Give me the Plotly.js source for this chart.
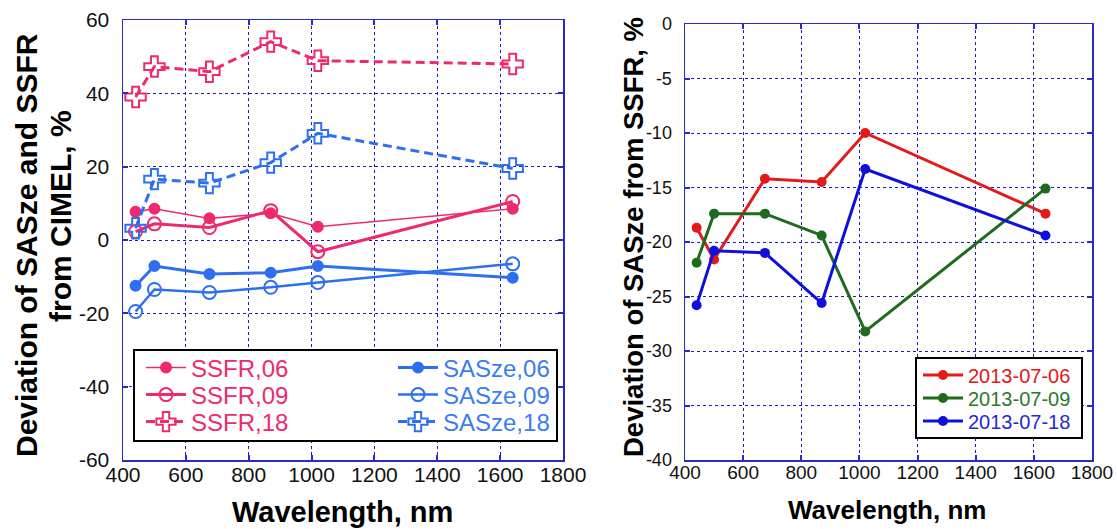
<!DOCTYPE html>
<html><head><meta charset="utf-8">
<script src="https://cdn.plot.ly/plotly-3.0.1.min.js"></script>
<style>html,body{margin:0;padding:0;background:#fff}#chart{width:1117px;height:529px}</style>
</head><body><div id="chart"></div>
<script>
// ---- data ----
const wavelengths = [440, 500, 675, 870, 1020, 1640];
const ssfr06 = [7.7, 8.5, 5.9, 7.3, 3.6, 8.5];
const ssfr09 = [2.3, 4.4, 3.4, 8.0, -3.2, 10.5];
const ssfr18 = [39.0, 47.3, 45.9, 54.1, 48.9, 48.0];
const sasze06 = [-12.5, -7.1, -9.3, -8.9, -7.1, -10.3];
const sasze09 = [-19.5, -13.5, -14.3, -12.9, -11.6, -6.5];
const sasze18 = [3.2, 16.6, 15.5, 21.1, 29.1, 19.5];
const dev0706 = [-18.7, -21.6, -14.2, -14.5, -10.0, -17.4];
const dev0709 = [-21.9, -17.4, -17.4, -19.4, -28.2, -15.1];
const dev0718 = [-25.8, -20.8, -21.0, -25.6, -13.3, -19.4];
const leftNames = ['SSFR,06', 'SSFR,09', 'SSFR,18', 'SASze,06', 'SASze,09', 'SASze,18'];
const rightNames = ['2013-07-06', '2013-07-09', '2013-07-18'];
const xTickVals = [400, 600, 800, 1000, 1200, 1400, 1600, 1800];
const xTickText = ['400', '600', '800', '1000', '1200', '1400', '1600', '1800'];
const leftYTickVals = [-60, -40, -20, 0, 20, 40, 60];
const leftYTickText = ['-60', '-40', '-20', '0', '20', '40', '60'];
const rightYTickVals = [-40, -35, -30, -25, -20, -15, -10, -5, 0];
const rightYTickText = ['-40', '-35', '-30', '-25', '-20', '-15', '-10', '-5', '0'];
const xTitle = 'Wavelength, nm';
const leftYTitle1 = 'Deviation of SASze and SSFR';
const leftYTitle2 = 'from CIMEL, %';
const rightYTitle = 'Deviation of SASze from SSFR, %';

// ---- styling ----
const W = 1117, H = 529;
const PL = 123, PR = 1092, PT = 20, PB = 460;
const PINK = '#EE2A6E', LBLUE = '#2E6FF0';
const RED = '#E41A1A', GREEN = '#1E6B1E', DBLUE = '#1010DD';
const GRID = '#1c1cb8', AXIS = '#2a2ac8';
const FONT = 'Liberation Sans, Arial, sans-serif';
const px2x = p => (p - PL) / (PR - PL);
const px2y = p => (PB - p) / (PB - PT);

const leftSeries = [ssfr06, ssfr09, ssfr18, sasze06, sasze09, sasze18];
const leftStyle = [
  {c: PINK, w: 1.5, dash: 'solid', sym: 'circle', size: 10},
  {c: PINK, w: 3, dash: 'solid', sym: 'circle-open', size: 13},
  {c: PINK, w: 3, dash: '9px,5px', sym: 'cross-open', size: 17},
  {c: LBLUE, w: 3, dash: 'solid', sym: 'circle', size: 10},
  {c: LBLUE, w: 2.5, dash: 'solid', sym: 'circle-open', size: 13},
  {c: LBLUE, w: 3, dash: '9px,5px', sym: 'cross-open', size: 17}
];
const rightSeries = [dev0706, dev0709, dev0718];
const rightColors = [RED, GREEN, DBLUE];

const traces = [];
const layout = {
  width: W, height: H,
  margin: {l: PL, r: W - PR, t: PT, b: H - PB, pad: 0, autoexpand: false},
  paper_bgcolor: '#fff', plot_bgcolor: '#fff',
  showlegend: true,
  font: {family: FONT, color: '#000'},
  shapes: [], annotations: []
};

// legend positions (pixel) for each trace
const leftLegPos = [[141, 368], [141, 395], [141, 422], [393, 368], [393, 395], [393, 422]];
const rightLegPos = [[918, 375], [918, 398], [918, 421]];
const legTextColors = [PINK, PINK, PINK, '#3A7CF2', '#3A7CF2', '#3A7CF2'];
const rightLegTextColors = ['#E01818', '#2A7A2A', '#2828D0'];
let legIdx = 0;
function addLegend(pos, size, color) {
  legIdx++;
  const key = legIdx === 1 ? 'legend' : 'legend' + legIdx;
  layout[key] = {
    xref: 'paper', yref: 'paper',
    x: px2x(pos[0]), y: px2y(pos[1]), xanchor: 'left', yanchor: 'middle',
    bgcolor: 'rgba(0,0,0,0)', borderwidth: 0, itemwidth: 40,
    font: {family: FONT, size: size, color: color}
  };
  return key;
}

leftSeries.forEach((ys, i) => {
  const s = leftStyle[i];
  const lg = addLegend(leftLegPos[i], 24, legTextColors[i]);
  traces.push({
    x: wavelengths, y: ys, name: leftNames[i], type: 'scatter', mode: 'lines+markers',
    xaxis: 'x', yaxis: 'y', legend: lg,
    line: {color: s.c, width: s.w, dash: s.dash},
    marker: {symbol: s.sym, size: s.size, color: s.c, line: {color: s.c, width: 2}}
  });
});
rightSeries.forEach((ys, i) => {
  const lg = addLegend(rightLegPos[i], 20, rightLegTextColors[i]);
  traces.push({
    x: wavelengths, y: ys, name: rightNames[i], type: 'scatter', mode: 'lines+markers',
    xaxis: 'x2', yaxis: 'y2', legend: lg,
    line: {color: rightColors[i], width: 3},
    marker: {symbol: 'circle', size: 10, color: rightColors[i]}
  });
});

const baseAxis = {
  showline: true, mirror: 'ticks', linecolor: AXIS, linewidth: 1.5,
  showgrid: true, gridcolor: GRID, gridwidth: 1, griddash: 'dot',
  zeroline: false, ticks: 'inside', ticklen: 5, tickwidth: 2, tickcolor: AXIS,
  fixedrange: true, tickmode: 'array'
};
layout.xaxis = Object.assign({}, baseAxis, {domain: [0, px2x(563)], range: [400, 1800],
  tickvals: xTickVals, ticktext: xTickText,
  anchor: 'y', tickfont: {family: FONT, size: 21, color: '#111'}, ticklabelstandoff: -5});
layout.yaxis = Object.assign({}, baseAxis, {domain: [0, 1], range: [-60, 60],
  tickvals: leftYTickVals, ticktext: leftYTickText,
  anchor: 'x', tickfont: {family: FONT, size: 21, color: '#111'}, ticklabelstandoff: 8});
layout.xaxis2 = Object.assign({}, baseAxis, {domain: [px2x(685), 1], range: [400, 1800],
  tickvals: xTickVals, ticktext: xTickText,
  anchor: 'y2', tickfont: {family: FONT, size: 19, color: '#111'}, ticklabelstandoff: -5});
layout.yaxis2 = Object.assign({}, baseAxis, {domain: [0, px2y(24)], range: [-40, 0],
  tickvals: rightYTickVals, ticktext: rightYTickText,
  anchor: 'x2', tickfont: {family: FONT, size: 18, color: '#111'}, ticklabelstandoff: 8});

// legend boxes
layout.shapes.push({type: 'rect', xref: 'paper', yref: 'paper', layer: 'above',
  x0: px2x(134), x1: px2x(557), y0: px2y(441), y1: px2y(350),
  fillcolor: '#fff', line: {color: '#000', width: 2}});
layout.shapes.push({type: 'rect', xref: 'paper', yref: 'paper', layer: 'above',
  x0: px2x(916), x1: px2x(1082), y0: px2y(438), y1: px2y(358),
  fillcolor: '#fff', line: {color: '#000', width: 2}});

// titles
const tfont = s => ({family: FONT, size: s, color: '#000', weight: 'bold'});
function ann(text, xp, yp, size, angle) {
  layout.annotations.push({text: '<b>' + text + '</b>', xref: 'paper', yref: 'paper',
    x: px2x(xp), y: px2y(yp), xanchor: 'center', yanchor: 'middle', showarrow: false,
    textangle: angle, font: tfont(size)});
}
ann(leftYTitle1, 26, 245, 30, -90);
ann(leftYTitle2, 60, 216, 30, -90);
ann(rightYTitle, 633, 237, 27.5, -90);
ann(xTitle, 342, 512, 29, 0);
ann(xTitle, 887, 510, 26, 0);

Plotly.newPlot('chart', traces, layout, {staticPlot: true, displayModeBar: false});
</script>
</body></html>
